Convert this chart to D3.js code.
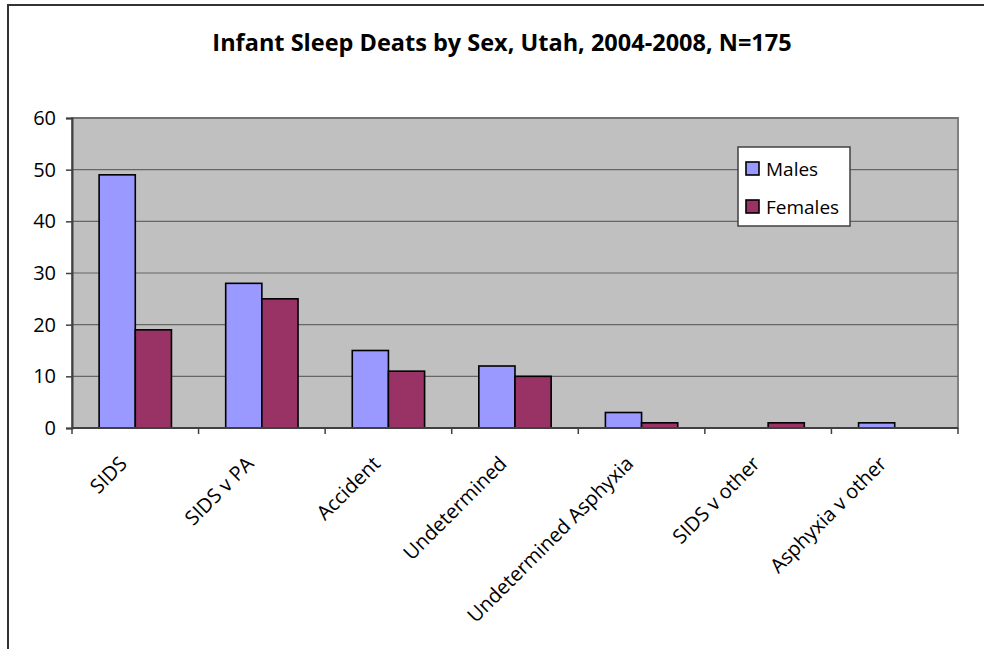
<!DOCTYPE html>
<html>
<head>
<meta charset="utf-8">
<script src="https://cdn.jsdelivr.net/npm/d3@7"></script>
<style>
  body { margin: 0; background: #fff; }
  text { font-family: "Open Sans", "Noto Sans", sans-serif; }
</style>
</head>
<body>
<svg id="chart" width="984" height="649"></svg>
<script>
// data
var categories = ["SIDS", "SIDS v PA", "Accident", "Undetermined", "Undetermined Asphyxia", "SIDS v other", "Asphyxia v other"];
var males = [49, 28, 15, 12, 3, 0, 1];
var females = [19, 25, 11, 10, 1, 1, 0];
var seriesNames = ["Males", "Females"];
var yTicks = [0, 10, 20, 30, 40, 50, 60];
var title = "Infant Sleep Deats by Sex, Utah, 2004-2008, N=175";

var colors = ["#9999FF", "#993366"];

drawChart();

function drawChart() {
    var svg = d3.select("#chart");

    // outer frame (runs off the right and bottom edge)
    svg.append("rect")
        .attr("x", 8).attr("y", 5)
        .attr("width", 1100).attr("height", 800)
        .attr("fill", "#fff")
        .attr("stroke", "#333")
        .attr("stroke-width", 2);

    svg.append("text")
        .attr("x", 502).attr("y", 51)
        .attr("text-anchor", "middle")
        .style("font-weight", "bold")
        .style("font-size", "23.5px")
        .text(title);

    var pLeft = 72, pRight = 958, pTop = 118, pBottom = 428;

    var x = d3.scaleBand().domain(categories).range([pLeft, pRight]);
    var xs = d3.scaleBand().domain(seriesNames)
        .range([0, x.bandwidth()])
        .paddingInner(0)
        .paddingOuter(0.75);
    var y = d3.scaleLinear().domain([0, 60]).range([pBottom, pTop]);

    // plot area
    svg.append("rect")
        .attr("x", pLeft).attr("y", pTop)
        .attr("width", pRight - pLeft).attr("height", pBottom - pTop)
        .attr("fill", "#C0C0C0")
        .attr("stroke", "#808080")
        .attr("stroke-width", 2);

    // gridlines
    svg.append("g")
        .selectAll("line")
        .data(yTicks.filter(d => d > 0))
        .enter()
        .append("line")
        .attr("x1", pLeft).attr("x2", pRight)
        .attr("y1", d => y(d)).attr("y2", d => y(d))
        .style("stroke", "#666")
        .style("stroke-width", 1.2);

    // bars
    var data = categories.map((c, i) => ({cat: c, vals: [males[i], females[i]]}));
    var groups = svg.append("g")
        .selectAll("g")
        .data(data)
        .enter()
        .append("g")
        .attr("transform", d => "translate(" + x(d.cat) + ",0)");

    groups.selectAll("rect")
        .data(d => d.vals.map((v, j) => ({name: seriesNames[j], v: v, j: j})).filter(e => e.v > 0))
        .enter()
        .append("rect")
        .attr("x", d => xs(d.name))
        .attr("y", d => y(d.v))
        .attr("width", xs.bandwidth())
        .attr("height", d => y(0) - y(d.v))
        .attr("fill", d => colors[d.j])
        .attr("stroke", "#000")
        .attr("stroke-width", 1.6);

    // y axis
    var yAxis = d3.axisLeft(y).tickValues(yTicks).tickSize(6).tickPadding(10);
    var gy = svg.append("g")
        .attr("transform", "translate(" + pLeft + ",0)")
        .call(yAxis);
    gy.select(".domain").attr("stroke", "#404040").attr("stroke-width", 2);
    gy.selectAll(".tick line").attr("stroke", "#404040").attr("stroke-width", 1.5);
    gy.selectAll(".tick text")
        .style("font-size", "20px")
        .attr("fill", "#000")
        .style("font-family", "'Open Sans', sans-serif");

    // x axis line and ticks on band edges
    var edges = categories.map(c => x(c)).concat([pRight]);
    svg.append("line")
        .attr("x1", pLeft).attr("x2", pRight)
        .attr("y1", pBottom).attr("y2", pBottom)
        .attr("stroke", "#404040").attr("stroke-width", 2);
    svg.append("g")
        .selectAll("line")
        .data(edges)
        .enter()
        .append("line")
        .attr("x1", d => d).attr("x2", d => d)
        .attr("y1", pBottom).attr("y2", pBottom + 6)
        .attr("stroke", "#404040").attr("stroke-width", 1.5);

    // rotated category labels
    svg.append("g")
        .selectAll("text")
        .data(categories)
        .enter()
        .append("text")
        .attr("transform", d => "translate(" + (x(d) + x.bandwidth() / 2 - 7) + "," + (pBottom + 37) + ") rotate(-45)")
        .attr("text-anchor", "end")
        .style("font-size", "20px")
        .text(d => d);

    // legend
    var lg = svg.append("g").attr("transform", "translate(738,147)");
    lg.append("rect")
        .attr("width", 112).attr("height", 79)
        .attr("fill", "#fff")
        .attr("stroke", "#404040")
        .attr("stroke-width", 1.5);
    lg.selectAll("rect.sw")
        .data(seriesNames)
        .enter()
        .append("rect")
        .attr("class", "sw")
        .attr("x", 8)
        .attr("y", (d, i) => 15 + i * 38)
        .attr("width", 13).attr("height", 13)
        .attr("fill", (d, i) => colors[i])
        .attr("stroke", "#000")
        .attr("stroke-width", 1.6);
    lg.selectAll("text.lbl")
        .data(seriesNames)
        .enter()
        .append("text")
        .attr("class", "lbl")
        .attr("x", 28)
        .attr("y", (d, i) => 29 + i * 38)
        .style("font-size", "19px")
        .text(d => d);
}
</script>
</body>
</html>
